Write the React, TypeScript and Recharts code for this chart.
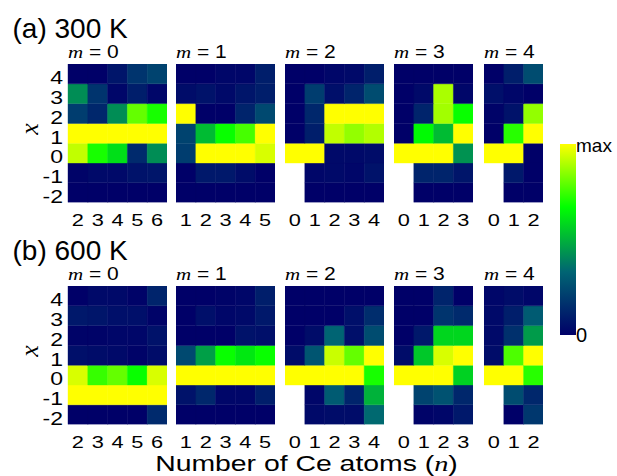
import React from 'react';
import { BarChart, Bar, XAxis, YAxis, Cell } from 'recharts';

// x levels (bottom to top of each panel)
const xLevels = [-2, -1, 0, 1, 2, 3, 4];
const mValues = [0, 1, 2, 3, 4];
const nByM = [
  [2, 3, 4, 5, 6],
  [1, 2, 3, 4, 5],
  [0, 1, 2, 3, 4],
  [0, 1, 2, 3],
  [0, 1, 2],
];

// Relative populations (0..1 = 0..max); rows from x=4 (top) to x=-2 (bottom); null = no data
const t300m0 = [
  [0, 0, 0.07, 0.17, 0.22],
  [0.42, 0.17, 0.02, 0.1, 0.02],
  [0.2, 0.13, 0.42, 0.8, 0.7],
  [1, 1, 1, 1, 1],
  [0.92, 0.7, 0.6, 0.14, 0.42],
  [0.01, 0.03, 0.03, 0.06, 0.07],
  [0, 0, 0, 0, 0],
];
const t300m1 = [
  [0, 0, 0.02, 0.02, 0.1],
  [0.04, 0.06, 0.03, 0.07, 0.1],
  [1, 0, 0, 0.12, 0.24],
  [0.22, 0.52, 0.68, 0.76, 1],
  [0.2, 1, 1, 1, 0.95],
  [0, 0.08, 0.08, 0.04, 0],
  [0, 0, 0, 0, 0],
];
const t300m2 = [
  [0, 0, 0.02, 0.03, 0.1],
  [0, 0.2, 0.05, 0.12, 0.25],
  [0, 0.13, 1, 1, 1],
  [0, 0.1, 0.92, 0.86, 0.9],
  [1, 1, 0.03, 0.03, 0.04],
  [null, 0.02, 0.03, 0.02, 0.06],
  [null, 0, 0, 0, 0],
];
const t300m3 = [
  [0, 0, 0, 0],
  [0, 0.03, 0.89, 0.02],
  [0, 0.12, 0.88, 0.68],
  [0, 0.66, 0.52, 1],
  [1, 1, 1, 0.43],
  [null, 0.12, 0.12, 0.07],
  [null, 0, 0, 0],
];
const t300m4 = [
  [0, 0.1, 0.25],
  [0.05, 0.02, 0],
  [0.01, 0.06, 0.86],
  [0, 0.72, 1],
  [1, 1, 0],
  [null, 0.08, 0],
  [null, 0, 0],
];
const t600m0 = [
  [0, 0.03, 0.03, 0.01, 0.12],
  [0.08, 0.07, 0.05, 0.05, 0.01],
  [0.01, 0.01, 0.02, 0.02, 0.06],
  [0.05, 0.04, 0.03, 0.01, 0.04],
  [0.95, 0.74, 0.8, 0.68, 0.95],
  [1, 1, 1, 1, 1],
  [0, 0, 0, 0, 0.14],
];
const t600m1 = [
  [0, 0, 0.01, 0.02, 0.1],
  [0, 0.05, 0.02, 0.03, 0.08],
  [0, 0, 0, 0.06, 0.05],
  [0.24, 0.46, 0.68, 0.62, 0.68],
  [1, 1, 1, 1, 1],
  [0.06, 0.13, 0.02, 0.02, 0.1],
  [0, 0, 0, 0, 0],
];
const t600m2 = [
  [0, 0, 0, 0, 0],
  [0, 0, 0, 0.05, 0.15],
  [0, 0.04, 0.33, 0.05, 0.25],
  [0.04, 0.28, 0.93, 0.8, 1],
  [1, 1, 1, 1, 0.7],
  [null, 0.02, 0.3, 0.12, 0.5],
  [null, 0.03, 0.04, 0.04, 0.34],
];
const t600m3 = [
  [0, 0, 0.12, 0],
  [0, 0, 0.17, 0.14],
  [0, 0.08, 0.58, 0.58],
  [0.04, 0.55, 0.95, 1],
  [1, 1, 1, 0.57],
  [null, 0.22, 0.27, 0.13],
  [null, 0.01, 0.02, 0.08],
];
const t600m4 = [
  [0.02, 0.04, 0.02],
  [0.03, 0.1, 0.3],
  [0.03, 0.16, 0.45],
  [0.04, 0.77, 1],
  [1, 1, 0.72],
  [null, 0.25, 0.13],
  [null, 0, 0.18],
];

const rows = [
  { title: '(a) 300 K', panels: [t300m0, t300m1, t300m2, t300m3, t300m4] },
  { title: '(b) 600 K', panels: [t600m0, t600m1, t600m2, t600m3, t600m4] },
];

const cmapStops: [number, number[]][] = [
  [0, [0, 0, 104]],
  [0.33, [0, 100, 115]],
  [0.67, [0, 255, 0]],
  [1, [255, 255, 0]],
];
function cmap(v: number): string {
  const t = Math.max(0, Math.min(1, v));
  for (let i = 1; i < cmapStops.length; i++) {
    const [p1, c1] = cmapStops[i];
    const [p0, c0] = cmapStops[i - 1];
    if (t <= p1) {
      const f = (t - p0) / (p1 - p0);
      const c = c0.map((a, k) => Math.round(a + (c1[k] - a) * f));
      return `rgb(${c[0]},${c[1]},${c[2]})`;
    }
  }
  return 'rgb(255,255,0)';
}

const CELL = 19.8;
const PANEL_LEFT = [68, 176, 285, 394, 484];
const ROW_TOP = [64, 286];
const YW = 40;
const XH = 32;
const SANS = '"Liberation Sans", Arial, sans-serif';
const SERIF = '"Liberation Serif", "Times New Roman", serif';

const XTick = (props: any) => {
  const { x, y, payload } = props;
  return (
    <g transform={`translate(${x},${y})`}>
      <text transform="scale(1.28,1)" textAnchor="middle" dy="0.71em" fontSize={17} fontFamily={SANS} fill="#000">
        {payload.value}
      </text>
    </g>
  );
};

const YTick = (props: any) => {
  const { x, y, payload } = props;
  const label = xLevels[Math.floor(payload.value)];
  return (
    <g transform={`translate(${x},${y + 4})`}>
      <text transform="scale(1.28,1)" textAnchor="end" dy="0.355em" fontSize={18} fontFamily={SANS} fill="#000">
        {label}
      </text>
    </g>
  );
};

function Panel({ matrix, ns, first }: { matrix: (number | null)[][]; ns: number[]; first: boolean }) {
  const data = ns.map((n) => {
    const d: any = { n };
    xLevels.forEach((_, k) => (d[`r${k}`] = 1));
    return d;
  });
  const w = ns.length * CELL + (first ? YW : 0);
  const h = 7 * CELL + XH;
  return (
    <BarChart width={w} height={h} data={data} margin={{ top: 0, right: 0, bottom: 0, left: 0 }} barCategoryGap={0} barGap={0}>
      <XAxis dataKey="n" type="category" tickLine={false} axisLine={false} tickSize={0} tickMargin={11} height={XH} interval={0} tick={XTick} />
      <YAxis
        type="number"
        domain={[0, 7]}
        ticks={[0.5, 1.5, 2.5, 3.5, 4.5, 5.5, 6.5]}
        hide={!first}
        width={first ? YW : 0}
        tickLine={false}
        axisLine={false}
        tickSize={0}
        tickMargin={5}
        interval={0}
        tick={YTick}
        allowDataOverflow
      />
      {xLevels.map((_, k) => (
        <Bar key={k} dataKey={`r${k}`} stackId="s" isAnimationActive={false}>
          {ns.map((n, j) => {
            const v = matrix[6 - k][j];
            const fill = v === null ? 'transparent' : cmap(v);
            return <Cell key={n} fill={fill} stroke={v === null ? 'none' : fill} strokeWidth={0.4} />;
          })}
        </Bar>
      ))}
    </BarChart>
  );
}

export default function App() {
  const gradStops = [1, 0.83, 0.67, 0.5, 0.33, 0.16, 0];
  return (
    <div style={{ position: 'absolute', left: 0, top: 0, width: 617, height: 476, background: '#fff' }}>
      <svg width={617} height={476} style={{ position: 'absolute', left: 0, top: 0 }}>
        <defs>
          <linearGradient id="cbar" x1="0" y1="0" x2="0" y2="1">
            {gradStops.map((v, i) => (
              <stop key={i} offset={`${(1 - v) * 100}%`} stopColor={cmap(v)} />
            ))}
          </linearGradient>
        </defs>
        {rows.map((r, ri) => {
          const top = ROW_TOP[ri];
          return (
            <g key={ri}>
              <text x={12.5} y={top - 26} fontSize={28} fontFamily={SANS} fill="#000">
                {r.title}
              </text>
              {mValues.map((m, mi) => (
                <g key={m} transform={`translate(${PANEL_LEFT[mi]},${top - 6})`}>
                  <text transform="scale(1.2,1)" fontSize={17.5} fill="#000">
                    <tspan fontFamily={SERIF} fontStyle="italic">m</tspan>
                    <tspan fontFamily={SANS}> = {m}</tspan>
                  </text>
                </g>
              ))}
              <text
                transform={`translate(30,${top + 65}) rotate(-90)`}
                textAnchor="middle"
                dy="0.3em"
                fontSize={26}
                fontFamily={SERIF}
                fontStyle="italic"
                fill="#000"
              >
                x
              </text>
            </g>
          );
        })}
        <g transform="translate(306.5,470.5)">
          <text transform="scale(1.29,1)" textAnchor="middle" fontSize={22} fill="#000">
            <tspan fontFamily={SANS}>Number of Ce atoms (</tspan>
            <tspan fontFamily={SERIF} fontStyle="italic">n</tspan>
            <tspan fontFamily={SANS}>)</tspan>
          </text>
        </g>
        <rect x={560} y={144} width={16} height={191} fill="url(#cbar)" />
        <text x={576} y={151.7} fontSize={19} fontFamily={SANS} fill="#000">max</text>
        <text x={576} y={341.7} fontSize={20} fontFamily={SANS} fill="#000">0</text>
      </svg>
      {rows.map((r, ri) =>
        r.panels.map((mat, mi) => (
          <div
            key={`${ri}-${mi}`}
            style={{ position: 'absolute', left: PANEL_LEFT[mi] - (mi === 0 ? YW : 0), top: ROW_TOP[ri] }}
          >
            <Panel matrix={mat} ns={nByM[mi]} first={mi === 0} />
          </div>
        ))
      )}
    </div>
  );
}
